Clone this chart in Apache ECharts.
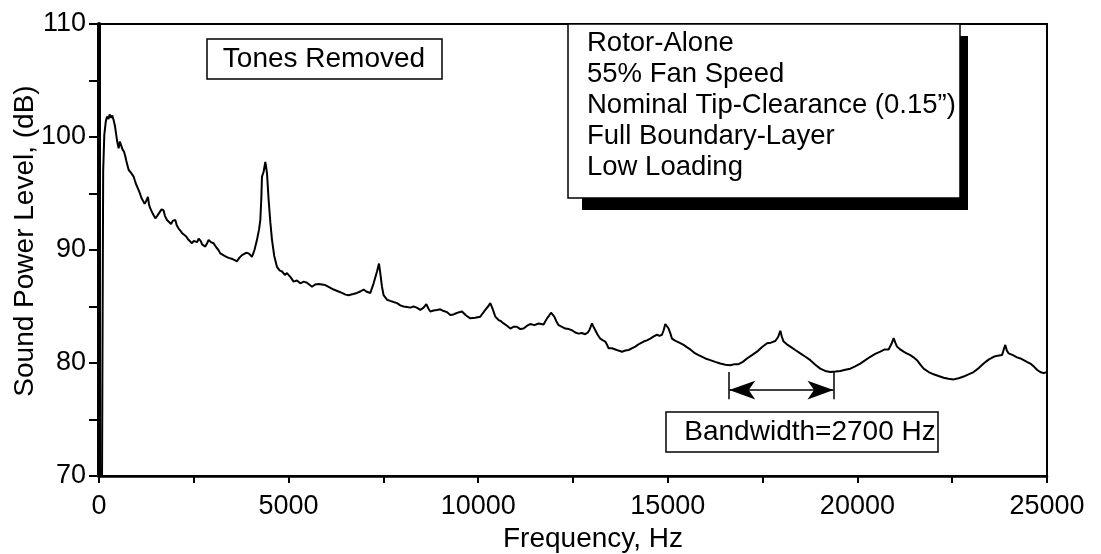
<!DOCTYPE html>
<html>
<head>
<meta charset="utf-8">
<script src="https://cdn.jsdelivr.net/npm/echarts@6/dist/echarts.min.js"></script>
<style>html,body{margin:0;padding:0;background:#fff}#c{width:1101px;height:554px}</style>
</head>
<body>
<div id="c"></div>
<script>
// Frequency (Hz)
const freq = [
  80,110,140,180,210,250,280,320,350,385,420,448,480,518,550,588,620,660,693,720,
  750,781,810,850,880,913,950,980,1010,1045,1080,1120,1160,1203,1240,1291,1320,1350,1380,1420,
  1485,1530,1570,1600,1650,1704,1740,1793,1840,1900,1950,2012,2050,2100,2150,2188,2240,2300,2360,2410,
  2452,2500,2540,2590,2627,2680,2720,2760,2803,2850,2891,2950,3023,3060,3100,3150,3199,3250,3300,3360,
  3419,3470,3520,3580,3639,3700,3771,3820,3880,3946,3990,4034,4100,4166,4220,4254,4280,4298,4340,4386,
  4410,4430,4474,4520,4562,4620,4694,4760,4826,4900,4958,5050,5132,5220,5308,5400,5485,5560,5617,5700,
  5791,5880,5968,6080,6187,6300,6408,6500,6582,6700,6804,6900,6978,7060,7155,7242,7331,7384,7418,7460,
  7505,7595,7680,7769,7860,7946,8030,8122,8210,8296,8380,8473,8560,8632,8690,8737,8820,8913,9000,9088,
  9180,9264,9350,9420,9500,9573,9680,9792,9920,10055,10120,10187,10260,10319,10380,10451,10538,10600,10670,10760,
  10847,10930,11023,11110,11197,11290,11374,11480,11593,11660,11725,11814,11870,11920,11960,12007,12060,12120,12210,12297,
  12390,12474,12560,12647,12730,12824,12890,12937,13001,13040,13088,13150,13220,13290,13352,13400,13439,13530,13616,13700,
  13792,13880,13967,14050,14143,14250,14362,14450,14539,14630,14715,14780,14847,14890,14934,14980,15021,15070,15111,15180,
  15243,15330,15417,15500,15593,15700,15812,15857,15990,16120,16250,16384,16520,16648,16760,16867,16980,17088,17220,17352,
  17480,17616,17720,17835,17910,17967,18010,18054,18140,18231,18360,18494,18630,18758,18890,19021,19150,19285,19420,19549,
  19680,19813,19940,20076,20210,20340,20470,20604,20720,20823,20900,20955,21000,21044,21130,21218,21300,21395,21480,21571,
  21660,21747,21880,22010,22140,22274,22400,22538,22670,22801,22930,23065,23200,23329,23460,23592,23700,23813,23860,23900,
  23940,23988,24100,24209,24300,24385,24470,24560,24650,24736,24820,24912,25000
];
// Sound power level (dB), same order as freq
const level = [
  70,97,100.2,101.4,101.8,101.6,102.0,101.7,101.9,101.5,101.0,100.35,99.6,99.0,99.6,99.5,98.9,98.7,98.3,97.9,
  97.5,97.1,97.2,96.8,96.9,96.5,96.1,95.8,95.7,95.3,95.0,94.6,94.5,94.1,94.3,94.7,94.0,93.7,93.6,93.2,
  92.8,93.0,93.2,93.3,93.6,93.5,93.0,92.65,92.7,92.3,92.6,92.65,92.2,91.9,91.7,91.5,91.4,91.2,90.9,90.8,
  90.6,90.8,90.9,90.7,91.0,90.8,90.5,90.4,90.3,90.6,90.9,90.7,90.6,90.4,90.2,90.0,89.7,89.6,89.5,89.4,
  89.3,89.4,89.2,89.1,89.0,89.3,89.55,89.5,89.75,89.7,89.6,89.4,90.0,90.9,91.8,92.65,94.5,96.5,96.9,97.8,
  97.3,96.8,94.4,92.4,90.9,89.5,88.5,88.2,88.1,87.8,87.95,87.6,87.2,87.3,87.05,87.2,87.1,86.9,86.75,86.95,
  87.0,86.95,86.9,86.7,86.5,86.35,86.2,86.05,86.0,86.1,86.2,86.35,86.5,86.3,86.2,87.05,88.1,88.8,87.95,86.8,
  86.0,85.6,85.5,85.4,85.3,85.1,85.0,84.95,84.9,85.0,84.9,84.7,84.9,85.2,84.8,84.55,84.65,84.7,84.75,84.6,
  84.5,84.25,84.3,84.4,84.5,84.55,84.2,83.95,84.0,84.1,84.4,84.7,85.0,85.3,84.8,84.1,83.8,83.7,83.5,83.3,
  83.05,83.2,83.2,83.0,83.05,83.3,83.45,83.35,83.5,83.45,83.4,83.95,84.2,84.45,84.3,84.1,83.7,83.35,83.2,83.05,
  83.0,82.9,82.7,82.6,82.65,82.55,82.7,82.95,83.5,83.2,82.9,82.5,82.15,82.0,81.9,81.6,81.3,81.3,81.2,81.1,
  81.0,81.1,81.15,81.3,81.45,81.7,81.9,82.0,82.15,82.35,82.5,82.4,82.5,82.9,83.45,83.3,83.05,82.6,82.15,82.0,
  81.9,81.75,81.6,81.4,81.2,80.9,80.7,80.55,80.4,80.25,80.1,79.95,79.85,79.8,79.9,79.9,80.1,80.4,80.7,81.0,
  81.4,81.75,81.8,81.95,82.3,82.85,82.3,81.9,81.65,81.45,81.15,80.85,80.55,80.25,79.85,79.5,79.3,79.2,79.25,79.3,
  79.4,79.5,79.7,79.95,80.25,80.55,80.8,81.0,81.2,81.2,81.7,82.2,81.8,81.45,81.2,81.0,80.85,80.7,80.5,80.25,
  79.85,79.5,79.2,79.0,78.85,78.7,78.6,78.55,78.65,78.8,79.0,79.2,79.55,79.95,80.3,80.55,80.65,80.7,81.2,81.6,
  81.1,80.85,80.7,80.5,80.4,80.25,80.1,79.95,79.7,79.4,79.2,79.1,79.2
];
// Axis ticks
const xTicks = [0,5000,10000,15000,20000,25000];
const yTicks = [70,80,90,100,110];
// Bandwidth arrow (Hz) and level (dB)
const bandFreq = [16620, 19370];
const bandLevel = 77.6;
const bandTick = [79.2, 76.8];

const n = Math.min(freq.length, level.length);
const series = [];
for (let i = 0; i < n; i++) series.push([freq[i], level[i]]);
const FONT = 'Liberation Sans, Arial, Helvetica, sans-serif';
const chart = echarts.init(document.getElementById('c'), null, {renderer:'canvas'});
chart.setOption({
  animation:false,
  backgroundColor:'#fff',
  grid:{left:99, right:54, top:24, bottom:78, containLabel:false, outerBoundsMode:'none',
    show:true, borderColor:'#000', borderWidth:2, backgroundColor:'transparent'},
  xAxis:{type:'value', min:0, max:25000, interval:2500,
    name:'Frequency, Hz', nameLocation:'middle', nameGap:49, nameMoveOverlap:false,
    nameTextStyle:{fontFamily:FONT, fontSize:28, color:'#000', padding:[0,0,0,40]},
    axisLine:{show:true, onZero:false, lineStyle:{color:'#000', width:2.5}},
    axisTick:{show:true, length:7, lineStyle:{color:'#000', width:2}},
    axisLabel:{margin:17, fontFamily:FONT, fontSize:27, color:'#000',
      formatter:v=> xTicks.includes(v) ? String(v) : ''},
    splitLine:{show:false}},
  yAxis:{type:'value', min:70, max:110, interval:5,
    name:'Sound Power Level, (dB)', nameLocation:'middle', nameGap:60, nameRotate:90, nameMoveOverlap:false,
    nameTextStyle:{fontFamily:FONT, fontSize:28, color:'#000', padding:[0,0,0,18]},
    axisLine:{show:true, onZero:false, lineStyle:{color:'#000', width:4}},
    axisTick:{show:true, length:10, lineStyle:{color:'#000', width:2}},
    axisLabel:{margin:13, fontFamily:FONT, fontSize:27, color:'#000',
      formatter:v=> yTicks.includes(v) ? String(v) : ''},
    splitLine:{show:false}},
  series:[{
    type:'line', data:series, showSymbol:false, symbol:'none',
    lineStyle:{color:'#000', width:2}, z:3,
    markLine:{silent:true, animation:false, label:{show:false},
      lineStyle:{color:'#000', width:1.5, type:'solid'},
      data:[
        [{coord:[bandFreq[0], bandLevel], symbol:'arrow', symbolSize:[14,26]},
         {coord:[bandFreq[1], bandLevel], symbol:'arrow', symbolSize:[14,26]}],
        [{coord:[bandFreq[0], bandTick[0]], symbol:'none'},{coord:[bandFreq[0], bandTick[1]], symbol:'none'}],
        [{coord:[bandFreq[1], bandTick[0]], symbol:'none'},{coord:[bandFreq[1], bandTick[1]], symbol:'none'}]
      ]}
  }],
  graphic:[
    {type:'rect', shape:{x:207,y:39,width:235,height:40}, style:{fill:'#fff', stroke:'#000', lineWidth:1.5}, z:10},
    {type:'text', x:324, y:59, style:{text:'Tones Removed', font:'28px '+FONT, fill:'#000', textAlign:'center', textVerticalAlign:'middle'}, z:11},
    {type:'rect', shape:{x:582,y:36,width:386,height:174}, style:{fill:'#000'}, z:10},
    {type:'rect', shape:{x:568,y:24,width:392,height:174}, style:{fill:'#fff', stroke:'#000', lineWidth:1.5}, z:11},
    {type:'text', x:587, y:28, style:{text:'Rotor-Alone\n55% Fan Speed\nNominal Tip-Clearance (0.15\u201d)\nFull Boundary-Layer\nLow Loading', font:'27.5px '+FONT, lineHeight:31, fill:'#000', textAlign:'left', textVerticalAlign:'top'}, z:12},
    {type:'rect', shape:{x:666,y:412,width:272,height:40}, style:{fill:'#fff', stroke:'#000', lineWidth:1.5}, z:10},
    {type:'text', x:810, y:432, style:{text:'Bandwidth=2700 Hz', font:'28px '+FONT, fill:'#000', textAlign:'center', textVerticalAlign:'middle'}, z:11}
  ]
});
</script>
</body>
</html>
